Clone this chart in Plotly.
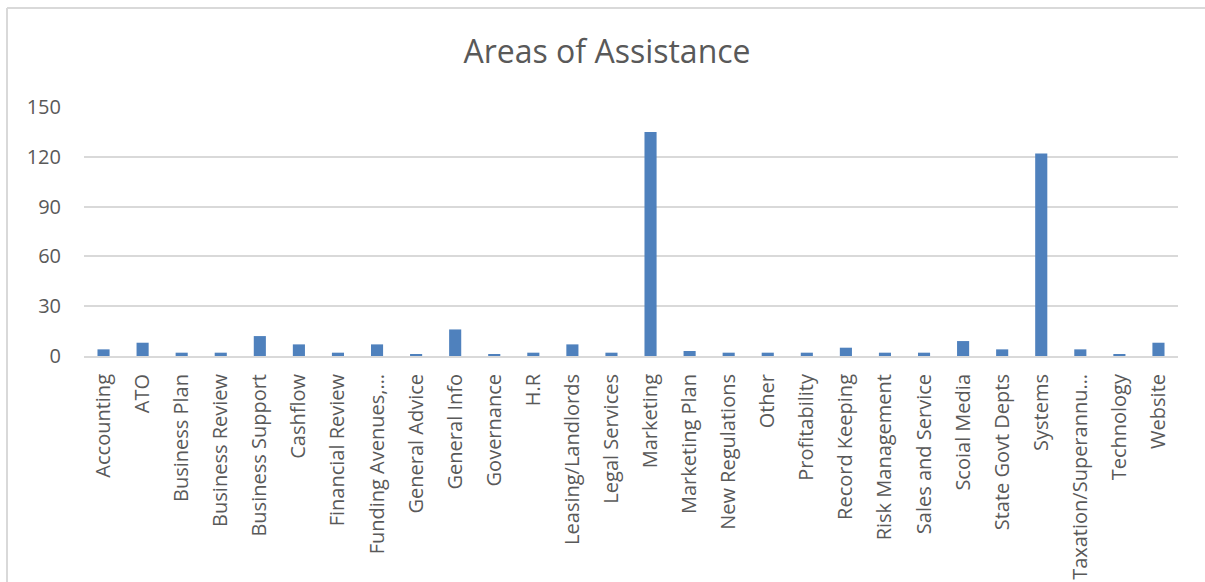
import plotly.graph_objects as go

categories = ["Accounting", "ATO", "Business Plan", "Business Review", "Business Support",
              "Cashflow", "Financial Review", "Funding Avenues,…", "General Advice", "General Info",
              "Governance", "H.R", "Leasing/Landlords", "Legal Services", "Marketing",
              "Marketing Plan", "New Regulations", "Other", "Profitability", "Record Keeping",
              "Risk Management", "Sales and Service", "Scoial Media", "State Govt Depts", "Systems",
              "Taxation/Superannu…", "Technology", "Website"]
values = [4, 8, 2, 2, 12, 7, 2, 7, 1, 16, 1, 2, 7, 2, 135, 3, 2, 2, 2, 5, 2, 2, 9, 4, 122, 4, 1, 8]
y_ticks = [0, 30, 60, 90, 120, 150]
title_text = "Areas of Assistance"

FONT = "Open Sans"
TXT = "#595959"

fig = go.Figure(go.Bar(x=categories, y=values, marker_color="#4F81BD",
                       marker_line_width=0))

W, H = 1205, 582
L, R, T, B = 84, 27, 107, 226
pw, ph = W - L - R, H - T - B

fig.update_layout(
    width=W, height=H,
    margin=dict(l=L, r=R, t=T, b=B, autoexpand=False),
    paper_bgcolor="white", plot_bgcolor="white",
    bargap=0.69,
    showlegend=False,
    font=dict(family=FONT, color=TXT, size=20),
    title=dict(text=title_text, x=607 / W, xanchor="center",
               y=1 - 52 / H, yanchor="middle",
               font=dict(family=FONT, size=32, color=TXT)),
    xaxis=dict(type="category", tickangle=-90, showgrid=False, automargin=False,
               showline=True, linecolor="#d9d9d9", linewidth=2,
               ticks="", ticklabelstandoff=8,
               tickfont=dict(family=FONT, size=20, color=TXT)),
    yaxis=dict(range=[0, 150], tickvals=y_ticks, showgrid=True, automargin=False,
               gridcolor="#d9d9d9", gridwidth=1.5, zeroline=False,
               showline=False, ticks="", ticklabelstandoff=22,
               tickfont=dict(family=FONT, size=20, color=TXT)),
    shapes=[
        dict(type="line", xref="paper", yref="paper",
             x0=(7 - L) / pw, x1=(W + 5 - L) / pw,
             y0=(H - B - 8) / ph, y1=(H - B - 8) / ph,
             line=dict(color="#d9d9d9", width=2)),
        dict(type="line", xref="paper", yref="paper",
             x0=(7 - L) / pw, x1=(7 - L) / pw,
             y0=(H - B - 8) / ph, y1=-(B + 5) / ph,
             line=dict(color="#d9d9d9", width=2)),
    ],
)

fig.write_html("out.html")
